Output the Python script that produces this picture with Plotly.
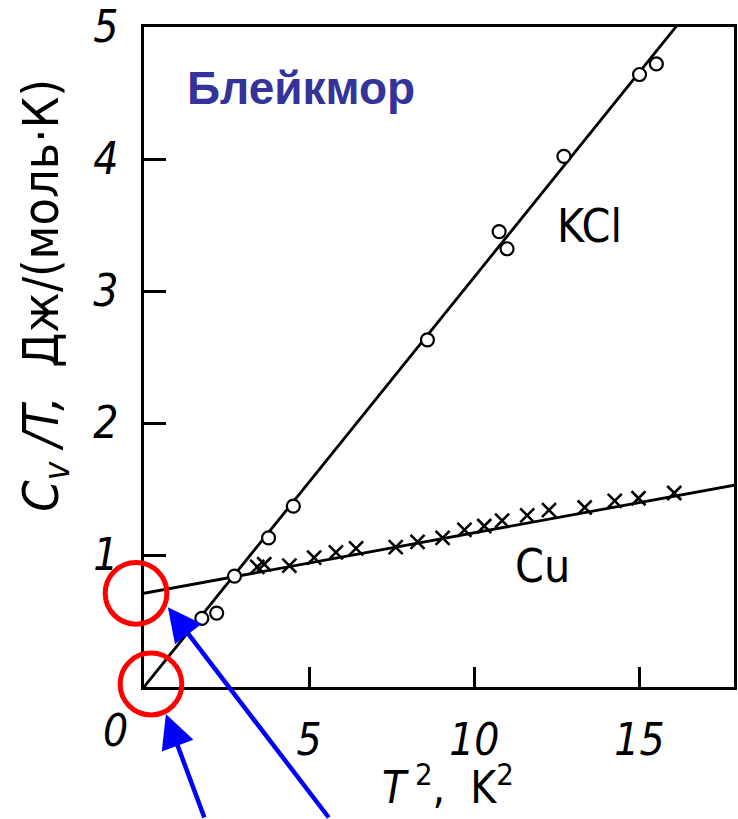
import plotly.graph_objects as go

# ---- data ----
kcl_x = [1.75, 2.20, 2.74, 3.77, 4.52, 8.58, 10.75, 10.99, 12.71, 15.00, 15.51]
kcl_y = [0.52, 0.56, 0.84, 1.13, 1.37, 2.63, 3.45, 3.32, 4.02, 4.64, 4.72]

cu_x = [3.43, 3.64, 4.40, 5.15, 5.81, 6.42, 7.62, 8.28, 9.04, 9.70, 10.30,
        10.84, 11.60, 12.26, 13.34, 14.25, 14.97, 16.05]
cu_y = [0.91, 0.93, 0.92, 0.98, 1.02, 1.05, 1.06, 1.10, 1.13, 1.19, 1.22,
        1.26, 1.30, 1.34, 1.36, 1.41, 1.43, 1.47]

kcl_fit_x = [0.0, 17.9]
kcl_fit_y = [0.0, 5.56]
cu_fit_x = [0.0, 17.9]
cu_fit_y = [0.71, 1.53]

x_ticks = [5, 10, 15]
x_tick_text = ["5", "10", "15"]
y_ticks = [1, 2, 3, 4, 5]
y_tick_text = ["1", "2", "3", "4", "5"]

X_RANGE = [0, 17.86]
Y_RANGE = [0, 5.0]

W, H = 738, 819
ML, MR, MT, MB = 144, 1, 25, 132
PW, PH = W - ML - MR, H - MT - MB

def px(xp):
    return (xp - ML) / PW

def py(yp):
    return (H - MB - yp) / PH

HAND = "Liberation Sans Narrow, DejaVu Sans Condensed, Liberation Sans, sans-serif"

fig = go.Figure()

fig.add_trace(go.Scatter(x=kcl_fit_x, y=kcl_fit_y, mode="lines",
                         line=dict(color="black", width=2.8), showlegend=False))
fig.add_trace(go.Scatter(x=cu_fit_x, y=cu_fit_y, mode="lines",
                         line=dict(color="black", width=2.8), showlegend=False))
fig.add_trace(go.Scatter(x=kcl_x, y=kcl_y, mode="markers",
                         marker=dict(symbol="circle", size=13, color="white",
                                     line=dict(color="black", width=2.2)),
                         showlegend=False))
fig.add_trace(go.Scatter(x=cu_x, y=cu_y, mode="markers",
                         marker=dict(symbol="x-thin", size=14, color="black",
                                     line=dict(color="black", width=2.6)),
                         showlegend=False))

axis_common = dict(showline=True, linecolor="black", linewidth=2.5, mirror=True,
                   ticks="inside", tickcolor="black", tickwidth=2.5,
                   showgrid=False, zeroline=False, ticklabeloverflow="allow",
                   tickfont=dict(family=HAND, size=44, color="black", style="italic"))

fig.update_xaxes(range=X_RANGE, tickvals=x_ticks, ticktext=x_tick_text,
                 ticklen=20, ticklabelstandoff=12, **axis_common)
fig.update_yaxes(range=Y_RANGE, tickvals=y_ticks, ticktext=y_tick_text,
                 ticklen=22, ticklabelstandoff=14, **axis_common)

annotations = [
    # origin label
    dict(xref="paper", yref="paper", x=px(115), y=py(731), text="0",
         showarrow=False, xanchor="center", yanchor="middle",
         font=dict(family=HAND, size=44, color="black", style="italic")),
    # y title
    dict(xref="paper", yref="paper", x=px(44), y=py(294),
         text="<i>C<sub>v</sub> /T,</i>  Дж/(моль·К)", textangle=-90,
         showarrow=False, xanchor="center", yanchor="middle",
         font=dict(family=HAND, size=50, color="black")),
    # x title
    dict(xref="paper", yref="paper", x=px(450), y=py(785),
         text="<i>T</i><sup> 2</sup>,  K<sup>2</sup>",
         showarrow=False, xanchor="center", yanchor="middle",
         font=dict(family=HAND, size=44, color="black")),
    # series labels
    dict(xref="x", yref="y", x=13.5, y=3.49, text="KCl", showarrow=False,
         xanchor="center", yanchor="middle",
         font=dict(family=HAND, size=46, color="black")),
    dict(xref="x", yref="y", x=12.05, y=0.92, text="Cu", showarrow=False,
         xanchor="center", yanchor="middle",
         font=dict(family=HAND, size=46, color="black")),
    # blue title
    dict(xref="paper", yref="paper", x=px(302), y=py(86), text="<b>Блейкмор</b>",
         showarrow=False, xanchor="center", yanchor="middle",
         font=dict(family="Liberation Sans, Arial, sans-serif", size=46, color="#333399")),
    # blue arrows
    dict(xref="paper", yref="paper", x=px(168), y=py(607), text="",
         showarrow=True, arrowhead=2, arrowsize=1.5, arrowwidth=4.5,
         arrowcolor="#0000ff", ax=162, ay=215, standoff=0),
    dict(xref="paper", yref="paper", x=px(166), y=py(714), text="",
         showarrow=True, arrowhead=2, arrowsize=1.5, arrowwidth=4.5,
         arrowcolor="#0000ff", ax=39, ay=108, standoff=0),
]

shapes = []
for cx, cy, r in [(136, 593, 31), (151, 684, 31)]:
    shapes.append(dict(type="circle", xref="paper", yref="paper",
                       x0=px(cx - r), x1=px(cx + r), y0=py(cy + r), y1=py(cy - r),
                       line=dict(color="#ff0000", width=5), fillcolor="rgba(0,0,0,0)",
                       layer="above"))

fig.update_layout(width=W, height=H, margin=dict(l=ML, r=MR, t=MT, b=MB),
                  plot_bgcolor="white", paper_bgcolor="white",
                  annotations=annotations, shapes=shapes, showlegend=False)

fig.write_html("out.html", config={"displayModeBar": False},
               post_script="document.body.style.margin='0px';"
                           "document.body.style.overflow='hidden';")
